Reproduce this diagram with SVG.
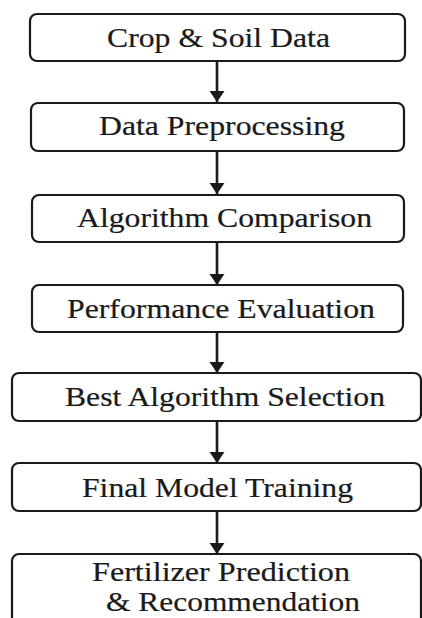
<svg xmlns="http://www.w3.org/2000/svg" width="422" height="618" viewBox="0 0 422 618">
  <style>
    .box { fill: #ffffff; stroke: #1a1a1a; stroke-width: 2.2; }
    .lbl { font-family: "Liberation Serif", "Times New Roman", serif; font-size: 27px; fill: #1a1a1a; stroke: #1a1a1a; stroke-width: 0.2; }
    .link { stroke: #1a1a1a; stroke-width: 2.6; fill: none; marker-end: url(#head); }
  </style>
  <defs>
    <marker id="head" markerWidth="12" markerHeight="16" refX="11" refY="8" orient="auto" markerUnits="userSpaceOnUse">
      <path d="M0,0.5 L11,8 L0,15.5 Z" fill="#1a1a1a"/>
    </marker>
  </defs>
  <rect width="422" height="618" fill="#ffffff"/>

  <!-- vertical flow arrows between the stages -->
  <g id="connectors">
    <line class="link" x1="217" y1="61" x2="217" y2="102"/>
    <line class="link" x1="217" y1="151" x2="217" y2="194"/>
    <line class="link" x1="217" y1="242" x2="217" y2="285"/>
    <line class="link" x1="217" y1="332" x2="217" y2="373"/>
    <line class="link" x1="217" y1="421" x2="217" y2="463"/>
    <line class="link" x1="217" y1="511" x2="217" y2="554"/>
  </g>

  <g id="crop-soil-data">
    <rect class="box" x="30" y="14" width="375" height="47" rx="7"/>
    <text class="lbl" x="107" y="46.5" textLength="223" lengthAdjust="spacingAndGlyphs">Crop &amp; Soil Data</text>
  </g>
  <g id="data-preprocessing">
    <rect class="box" x="31" y="103" width="373" height="48" rx="7"/>
    <text class="lbl" x="99" y="135" textLength="246" lengthAdjust="spacingAndGlyphs">Data Preprocessing</text>
  </g>
  <g id="algorithm-comparison">
    <rect class="box" x="32" y="195" width="372" height="47" rx="7"/>
    <text class="lbl" x="77" y="227" textLength="295" lengthAdjust="spacingAndGlyphs">Algorithm Comparison</text>
  </g>
  <g id="performance-evaluation">
    <rect class="box" x="32" y="285" width="371" height="47" rx="7"/>
    <text class="lbl" x="67" y="318" textLength="308" lengthAdjust="spacingAndGlyphs">Performance Evaluation</text>
  </g>
  <g id="best-algorithm-selection">
    <rect class="box" x="12" y="373" width="409" height="48" rx="7"/>
    <text class="lbl" x="65" y="406" textLength="320" lengthAdjust="spacingAndGlyphs">Best Algorithm Selection</text>
  </g>
  <g id="final-model-training">
    <rect class="box" x="12" y="463" width="409" height="48" rx="7"/>
    <text class="lbl" x="82" y="497" textLength="271" lengthAdjust="spacingAndGlyphs">Final Model Training</text>
  </g>
  <g id="fertilizer-prediction">
    <rect class="box" x="12" y="554" width="409" height="80" rx="7"/>
    <text class="lbl" x="92" y="581" textLength="258" lengthAdjust="spacingAndGlyphs">Fertilizer Prediction</text>
    <text class="lbl" x="106" y="611" textLength="254" lengthAdjust="spacingAndGlyphs">&amp; Recommendation</text>
  </g>
</svg>
